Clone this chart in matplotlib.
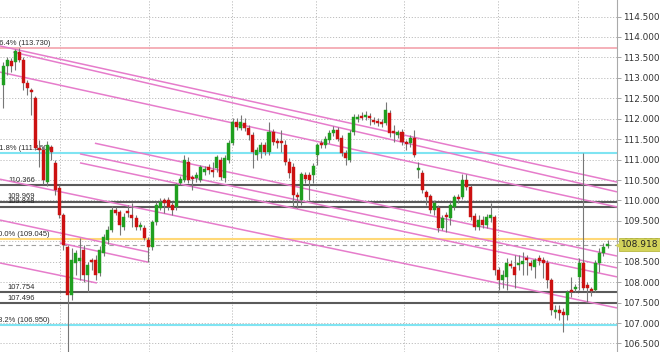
import matplotlib
matplotlib.use('Agg')
import matplotlib.pyplot as plt
from matplotlib.transforms import blended_transform_factory

# ---------------- data ----------------
opens = [112.82, 113.29, 113.41, 113.39, 113.63, 113.44, 112.87, 112.70, 112.51, 111.28,
         111.23, 110.45, 111.31, 110.92, 110.30, 109.64, 108.86, 107.69, 108.47, 108.52,
         108.79, 108.18, 108.54, 108.54, 108.22, 108.71, 109.03, 109.28, 109.77, 109.72,
         109.35, 109.74, 109.64, 109.57, 109.35, 109.33, 109.03, 108.86, 109.47, 109.82,
         110.01, 110.01, 109.89, 109.84, 110.43, 110.50, 110.94, 110.57, 110.55, 110.50,
         110.70, 110.82, 110.75, 110.79, 110.99, 110.55, 110.99, 111.40, 111.92, 111.77,
         111.89, 111.77, 111.60, 111.11, 111.19, 111.36, 111.19, 111.67, 111.45, 111.45,
         111.36, 110.94, 110.82, 110.13, 110.01, 110.62, 110.62, 110.62, 111.11, 111.40,
         111.36, 111.48, 111.65, 111.72, 111.53, 111.16, 110.99, 111.67, 111.99, 112.07,
         112.04, 112.04, 111.97, 111.94, 111.92, 111.89, 112.14, 111.70, 111.60, 111.67,
         111.43, 111.40, 111.53, 110.75, 110.67, 110.21, 110.11, 109.77, 109.82, 109.33,
         109.64, 109.57, 109.84, 110.08, 110.08, 110.50, 110.33, 109.62, 109.35, 109.52,
         109.40, 109.57, 109.60, 108.30, 108.05, 108.13, 108.45, 108.37, 108.42, 108.45,
         108.59, 108.47, 108.37, 108.59, 108.54, 108.47, 108.05, 107.27, 107.32, 107.27,
         107.20, 107.81, 107.83, 108.13, 108.47, 107.93, 107.83, 107.81, 108.47, 108.71,
         108.89]
closes = [113.29, 113.44, 113.29, 113.66, 113.44, 112.87, 112.75, 112.65, 111.28, 111.23,
          110.50, 111.36, 111.19, 110.26, 109.64, 108.91, 107.69, 108.54, 108.71, 108.59,
          108.18, 108.42, 108.49, 108.18, 108.79, 109.11, 109.28, 109.77, 109.69, 109.40,
          109.60, 109.69, 109.57, 109.35, 109.40, 109.08, 108.86, 109.47, 109.89, 109.96,
          109.94, 109.84, 109.77, 110.38, 110.53, 110.99, 110.50, 110.53, 110.62, 110.82,
          110.77, 110.75, 110.70, 111.06, 110.57, 111.04, 111.40, 111.92, 111.80, 111.92,
          111.77, 111.60, 111.19, 111.23, 111.36, 111.19, 111.67, 111.43, 111.40, 111.40,
          110.94, 110.67, 110.13, 110.08, 110.65, 110.53, 110.50, 110.84, 111.36, 111.36,
          111.50, 111.65, 111.72, 111.50, 111.16, 111.04, 111.65, 112.04, 112.04, 112.02,
          112.09, 112.02, 111.92, 111.89, 111.87, 112.21, 111.65, 111.65, 111.67, 111.43,
          111.38, 111.53, 111.11, 110.77, 110.26, 110.08, 109.77, 109.94, 109.33, 109.57,
          109.60, 109.89, 110.08, 110.04, 110.50, 110.33, 109.60, 109.35, 109.52, 109.40,
          109.60, 109.64, 108.30, 108.05, 108.18, 108.47, 108.40, 108.18, 108.47, 108.52,
          108.54, 108.40, 108.54, 108.52, 108.47, 108.05, 107.32, 107.32, 107.25, 107.20,
          107.76, 107.76, 107.88, 108.47, 107.86, 107.86, 107.78, 108.47, 108.71, 108.86,
          108.918]
highs = [113.39, 113.51, 113.49, 113.71, 113.73, 113.51, 112.95, 112.75, 112.56, 111.48,
         111.33, 111.45, 111.36, 110.99, 110.38, 109.69, 108.91, 108.84, 108.79, 109.08,
         108.91, 108.49, 108.59, 108.67, 108.89, 109.18, 109.37, 109.86, 109.84, 109.77,
         109.69, 109.89, 109.94, 109.64, 109.47, 109.40, 109.11, 109.52, 109.96, 110.06,
         110.06, 110.08, 109.96, 110.43, 110.60, 111.11, 111.06, 110.62, 110.70, 110.87,
         110.84, 110.89, 110.94, 111.11, 111.06, 111.11, 111.48, 112.02, 112.02, 112.09,
         112.02, 111.85, 111.67, 111.31, 111.43, 111.43, 111.92, 111.75, 111.53, 111.72,
         111.48, 111.04, 110.92, 110.21, 110.70, 110.70, 110.70, 110.92, 111.40, 111.48,
         111.58, 111.72, 111.82, 111.80, 111.60, 111.23, 111.72, 112.11, 112.11, 112.16,
         112.19, 112.14, 112.04, 112.02, 111.99, 112.41, 112.21, 111.85, 111.72, 111.75,
         111.48, 111.60, 111.72, 110.94, 110.75, 110.26, 110.16, 110.01, 109.89, 109.64,
         109.72, 109.96, 110.13, 110.16, 110.65, 110.65, 110.38, 109.69, 109.64, 109.62,
         109.67, 109.94, 109.64, 108.37, 108.30, 108.59, 108.54, 108.67, 108.67, 108.74,
         108.67, 108.54, 108.59, 108.67, 108.62, 108.54, 108.10, 107.44, 107.44, 107.37,
         107.81, 108.13, 107.96, 108.59, 111.16, 108.00, 107.88, 108.54, 108.84, 108.96,
         109.03]
lows = [112.26, 113.07, 113.14, 113.19, 113.39, 112.70, 112.58, 112.09, 111.23, 110.82,
        110.40, 110.35, 110.99, 110.13, 109.57, 108.79, 106.10, 107.56, 108.18, 108.05,
        108.00, 107.76, 108.30, 108.05, 108.15, 108.64, 108.93, 109.23, 109.64, 109.15,
        109.28, 109.59, 109.35, 109.28, 109.28, 109.03, 108.49, 108.79, 109.40, 109.77,
        109.69, 109.77, 109.64, 109.77, 110.38, 110.45, 110.43, 110.26, 110.45, 110.45,
        110.62, 110.65, 110.57, 110.70, 110.50, 110.45, 110.92, 111.36, 111.72, 111.72,
        111.70, 111.48, 110.79, 110.99, 111.04, 111.11, 111.11, 111.36, 111.28, 111.19,
        110.87, 110.55, 109.84, 109.81, 109.89, 110.43, 110.01, 110.43, 110.87, 111.28,
        111.28, 111.40, 111.58, 111.45, 111.09, 110.87, 110.94, 111.60, 111.92, 111.97,
        111.97, 111.85, 111.87, 111.82, 111.80, 111.85, 111.55, 111.43, 111.53, 111.36,
        111.23, 111.31, 111.06, 110.55, 110.18, 109.89, 109.69, 109.64, 109.23, 109.28,
        109.23, 109.40, 109.77, 109.94, 110.04, 110.26, 109.52, 109.28, 109.28, 109.33,
        109.33, 109.47, 108.18, 107.81, 107.86, 107.81, 108.35, 107.86, 108.30, 108.18,
        108.18, 108.30, 108.10, 108.42, 108.10, 107.86, 107.20, 107.12, 107.08, 106.78,
        107.08, 107.64, 107.76, 107.81, 107.81, 107.51, 107.66, 107.76, 108.25, 108.64,
        108.84]

last_price = 108.918

fib_pcts = ["76.4%", "61.8%", "50.0%", "38.2%"]
fib_levels = [113.730, 111.160, 109.045, 106.950]
fib_colors = ["#f3a3ad", "#7fe4f2", "#ffd877", "#7fe4f2"]

sr_levels = [110.366, 109.969, 109.848, 107.754, 107.496]

# trend-channel lines: (x0, y0, x1, y1) in bar index / price
channel_lines = [
    (-0.75, 113.78, 152.35, 110.45),
    (2.5, 113.63, 152.35, 110.21),
    (-0.75, 113.14, 152.35, 109.84),
    (22.8, 111.40, 152.35, 108.64),
    (19.1, 111.14, 152.35, 108.35),
    (19.1, 110.92, 152.35, 108.13),
    (-0.75, 110.52, 152.35, 107.37),
    (-0.75, 109.52, 36.0, 108.74),
    (14.1, 108.96, 36.0, 108.49),
    (-0.75, 108.47, 23.3, 107.98),
]

session_breaks = [14.1, 36.2, 56.8, 77.7, 99.5, 122.8, 142.7]
price_ticks = [106.5, 107.0, 107.5, 108.0, 108.5, 109.0, 109.5, 110.0, 110.5,
               111.0, 111.5, 112.0, 112.5, 113.0, 113.5, 114.0, 114.5]

# ---------------- figure ----------------
fig = plt.figure(figsize=(6.6, 3.52), dpi=100)
fig.patch.set_facecolor('white')
ax = fig.add_axes([0, 0, 617 / 660, 1])
ax.set_facecolor('white')
ax.set_xlim(-0.75, 152.35)
ax.set_ylim(106.292, 114.904)

# grid
ax.set_yticks(price_ticks)
ax.set_yticklabels([f"{v:.3f}" for v in price_ticks])
ax.set_xticks(session_breaks)
ax.set_xticklabels([])
ax.grid(True, color='#bdbdbd', linestyle=(0, (1.2, 1.8)), linewidth=0.7, zorder=0)
ax.set_axisbelow(True)

ax.yaxis.tick_right()
ax.tick_params(axis='y', which='both', direction='out', length=3, width=0.6,
               colors='#999999', labelcolor='#333333', labelsize=6.4, pad=1.5)
ax.tick_params(axis='x', length=0)
for s in ['top', 'left', 'bottom']:
    ax.spines[s].set_visible(False)
ax.spines['right'].set_color('#aaaaaa')
ax.spines['right'].set_linewidth(0.8)

tr = blended_transform_factory(ax.transAxes, ax.transData)
lab_font = ['Liberation Sans', 'DejaVu Sans']

# fibonacci levels
for pct, lvl, col in zip(fib_pcts, fib_levels, fib_colors):
    ax.axhline(lvl, color=col, lw=1.5 if col != "#f3a3ad" else 1.2, zorder=1)
    ax.text(50 / 617, lvl + 0.03, f"{pct} ({lvl:.3f})", transform=tr, ha='right',
            va='bottom', fontsize=5.4, family=lab_font, color='#2a2a2a', zorder=2)

# support / resistance levels
for lvl in sr_levels:
    ax.axhline(lvl, color='#5a5a5a', lw=1.5, zorder=1)
    ax.text(35 / 617, lvl + 0.03, f"{lvl:.3f}", transform=tr, ha='right',
            va='bottom', fontsize=5.4, family=lab_font, color='#2a2a2a', zorder=2)

# current price dashed line
ax.axhline(last_price, color='#a0a0a0', lw=0.8, linestyle=(0, (4, 3)), zorder=1)

# channel lines
for x0, y0, x1, y1 in channel_lines:
    ax.plot([x0, x1], [y0, y1], color='#e67ccb', lw=1.1, zorder=2,
            solid_capstyle='butt')

# candles
green = '#1f9f1f'
red = '#cc1111'
for i, (o, h, l, c) in enumerate(zip(opens, highs, lows, closes)):
    col = green if c >= o else red
    ax.vlines(i, l, h, color='#777777', lw=0.8, zorder=3)
    bottom = min(o, c)
    height = max(abs(c - o), 0.035)
    ax.bar(i, height, bottom=bottom, width=0.75, color=col, edgecolor=col,
           linewidth=0.3, zorder=4)

# last-price label
ax.text(1.0 + 4 / 617, last_price, f"{last_price:.3f}", transform=tr, ha='left',
        va='center', fontsize=6.6, color='#222222', zorder=6, clip_on=False,
        bbox=dict(boxstyle='square,pad=0.22', fc='#d3d35a', ec='#b9b940', lw=0.6))
ax.plot([1.0 + 2 / 617], [last_price], marker='<', ms=4, color='#d3d35a',
        transform=tr, clip_on=False, zorder=6)

fig.savefig('out.png', dpi=100, facecolor='white')
